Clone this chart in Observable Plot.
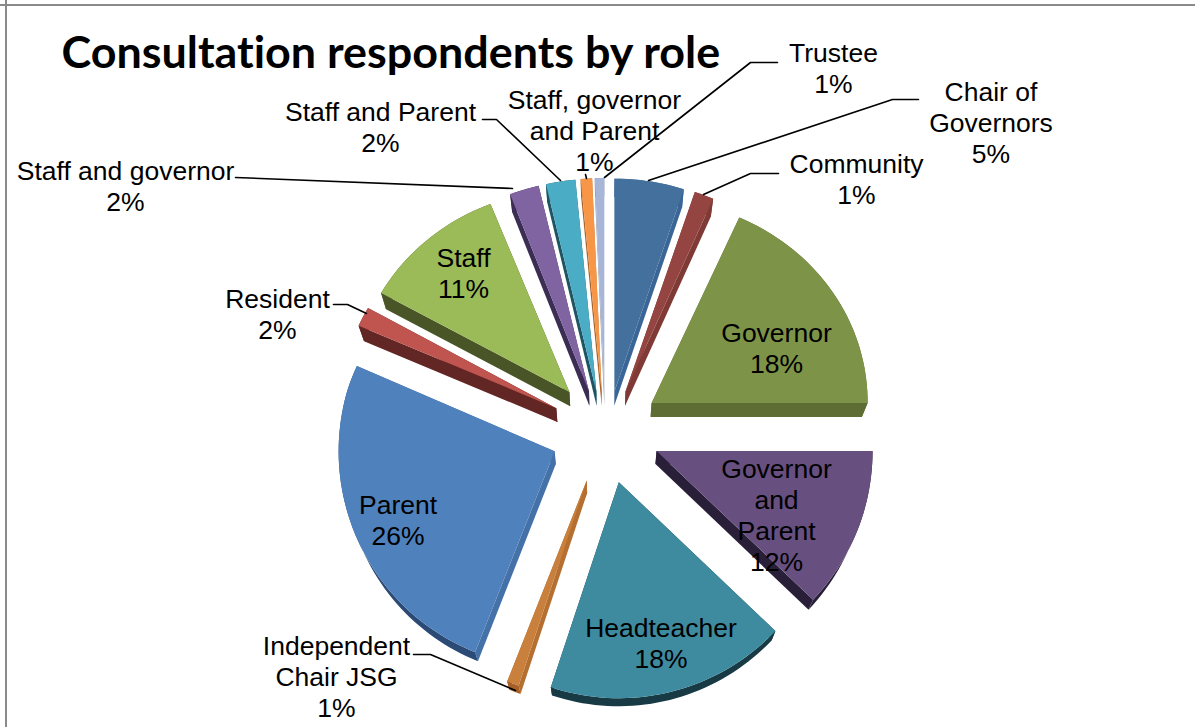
<!DOCTYPE html>
<html>
<head>
<meta charset="utf-8">
<script src="https://cdn.jsdelivr.net/npm/d3@7"></script>
<script src="https://cdn.jsdelivr.net/npm/@observablehq/plot@0.6"></script>
<style>
html,body{margin:0;padding:0;background:#fff;overflow:hidden}
svg{display:block;font-variant-ligatures:none}
</style>
</head>
<body>
<div id="chart"></div>
<script>
// ---- data (clockwise from 12 o'clock) ----
const roles = ["Chair of Governors","Community","Governor","Governor and Parent","Headteacher","Independent Chair JSG","Parent","Resident","Staff","Staff and governor","Staff and Parent","Staff, governor and Parent","Trustee"];
const shares = [5.2,1.45,18.35,12.1,18,0.9,25.6,1.55,10.9,2.2,2.2,0.85,0.7];

// ---- styles ----
const topColors  = ["#44709d","#954541","#7d9348","#674f80","#3e8ba0","#c8803c","#4f81bd","#c0544f","#9bbb59","#8064a2","#4bacc6","#f79646","#a7b6d8"];
const faceColors = ["#3a6597","#7f3a36","#5d6d34","#2a1f38","#173a45","#b56f30","#4472a8","#622624","#4a5527","#3c2d54","#1f5563","#a8652c","#8a8f9c"];
const rimColors  = ["#3a6597","#7f3a36","#5d6d34","#2a1f38","#173a45","#a85f25","#2b4a75","#622624","#4a5527","#3c2d54","#1f5563","#a8652c","#8a8f9c"];

// ---- layout ----
const W = 1195, H = 727;
const pie = {cx: 605, cy: 431, r: 216, explode: 55, squash: 0.95, apexLimit: 391};
const labelLayout = [
  {x: 990.5, y: 122, text: "Chair of\nGovernors"},
  {x: 856, y: 178.5, text: "Community"},
  {x: 776, y: 347, text: "Governor"},
  {x: 776, y: 514, text: "Governor\nand\nParent"},
  {x: 660.5, y: 642, text: "Headteacher"},
  {x: 336, y: 676, text: "Independent\nChair JSG"},
  {x: 397.5, y: 519, text: "Parent"},
  {x: 277, y: 313, text: "Resident"},
  {x: 463, y: 272, text: "Staff"},
  {x: 125, y: 185, text: "Staff and governor"},
  {x: 380, y: 126, text: "Staff and Parent"},
  {x: 594, y: 130, text: "Staff, governor\nand Parent"},
  {x: 833, y: 67, text: "Trustee"}
];
const leaders = [
  {id: "Chair", path: [[918,99],[892,99],[648,180]]},
  {id: "Community", path: [[778,173],[750,173],[703,194]]},
  {id: "Independent", path: [[413,654],[430,654],[515,690]]},
  {id: "Resident", path: [[333,304],[347,304],[366,313]]},
  {id: "StaffGov", path: [[235,177],[512,188]]},
  {id: "StaffParent", path: [[482,119],[496,119],[560,180]]},
  {id: "StaffGovParent", path: [[585,174],[586,178]]},
  {id: "Trustee", path: [[777,62],[750,62],[604,177]]}
];

// ---- geometry derived from the shares ----
const total = d3.sum(shares);
const depth = y => 14 - (y - 400) * 0.02;
const foreshorten = y => y < 390 ? y + (390 - y) * 0.065 : y;
const polys = [];
let acc = 0;
shares.forEach((s, i) => {
  const a0 = acc / total * 2 * Math.PI;
  acc += s;
  const a1 = acc / total * 2 * Math.PI;
  const mid = (a0 + a1) / 2;
  const ax = pie.cx + pie.explode * Math.sin(mid);
  const ay = pie.cy - pie.explode * pie.squash * Math.cos(mid);
  const n = Math.max(2, Math.ceil((a1 - a0) / 0.03));
  const arc = d3.range(n + 1).map(k => {
    const a = a0 + (a1 - a0) * k / n;
    return [ax + pie.r * Math.sin(a), foreshorten(ay - pie.r * Math.cos(a))];
  });
  const low = ([x, y]) => [x + (pie.cx - x) * 0.022, y + depth(y)];
  const apex = [ax, Math.max(ay, pie.apexLimit)];
  const add = (id, pts, color, order) =>
    pts.forEach(p => polys.push({id: `${i}-${id}`, x: p[0], y: p[1], color, order}));
  add("start", [apex, arc[0], low(arc[0]), low(apex)], faceColors[i], 0);
  add("end", [apex, arc[n], low(arc[n]), low(apex)], faceColors[i], 0);
  add("rim", [...arc, ...arc.slice().reverse().map(low)], rimColors[i], 0);
  add("top", [apex, ...arc], topColors[i], 1);
});

const labels = labelLayout.map((l, i) => ({...l, text: `${l.text}\n${Math.round(shares[i])}%`}));
const leaderPts = leaders.flatMap(l => l.path.map(([x, y]) => ({id: l.id, x, y})));

const polyMark = rows => Plot.line(rows, {x: "x", y: "y", z: "id", fill: "color", stroke: "none", curve: "linear-closed"});

const plot = Plot.plot({
  width: W, height: H,
  margin: 0,
  x: {domain: [0, W], range: [0, W], axis: null},
  y: {domain: [0, H], range: [0, H], axis: null},
  color: {type: "identity"},
  marks: [
    Plot.ruleY([4.5], {stroke: "#8a8a8a", strokeWidth: 2}),
    Plot.ruleX([5.5], {stroke: "#8a8a8a", strokeWidth: 2}),
    polyMark(polys.filter(d => d.order === 0)),
    polyMark(polys.filter(d => d.order === 1)),
    Plot.line(leaderPts, {x: "x", y: "y", z: "id", stroke: "#000", strokeWidth: 1.6, curve: "linear"}),
    Plot.text(labels, {x: "x", y: "y", text: "text", fontSize: 26.5, lineHeight: 1.17, fill: "#000", fontFamily: "Liberation Sans, Arial, sans-serif", textAnchor: "middle", lineAnchor: "middle"}),
    Plot.text(["Consultation respondents by role"], {x: [61], y: [53], text: d => d, fontSize: 44.85, fontWeight: "bold", fill: "#000", fontFamily: "Lato, sans-serif", textAnchor: "start", lineAnchor: "middle"})
  ]
});
plot.style.background = "#fff";
document.getElementById("chart").append(plot);
</script>
</body>
</html>
